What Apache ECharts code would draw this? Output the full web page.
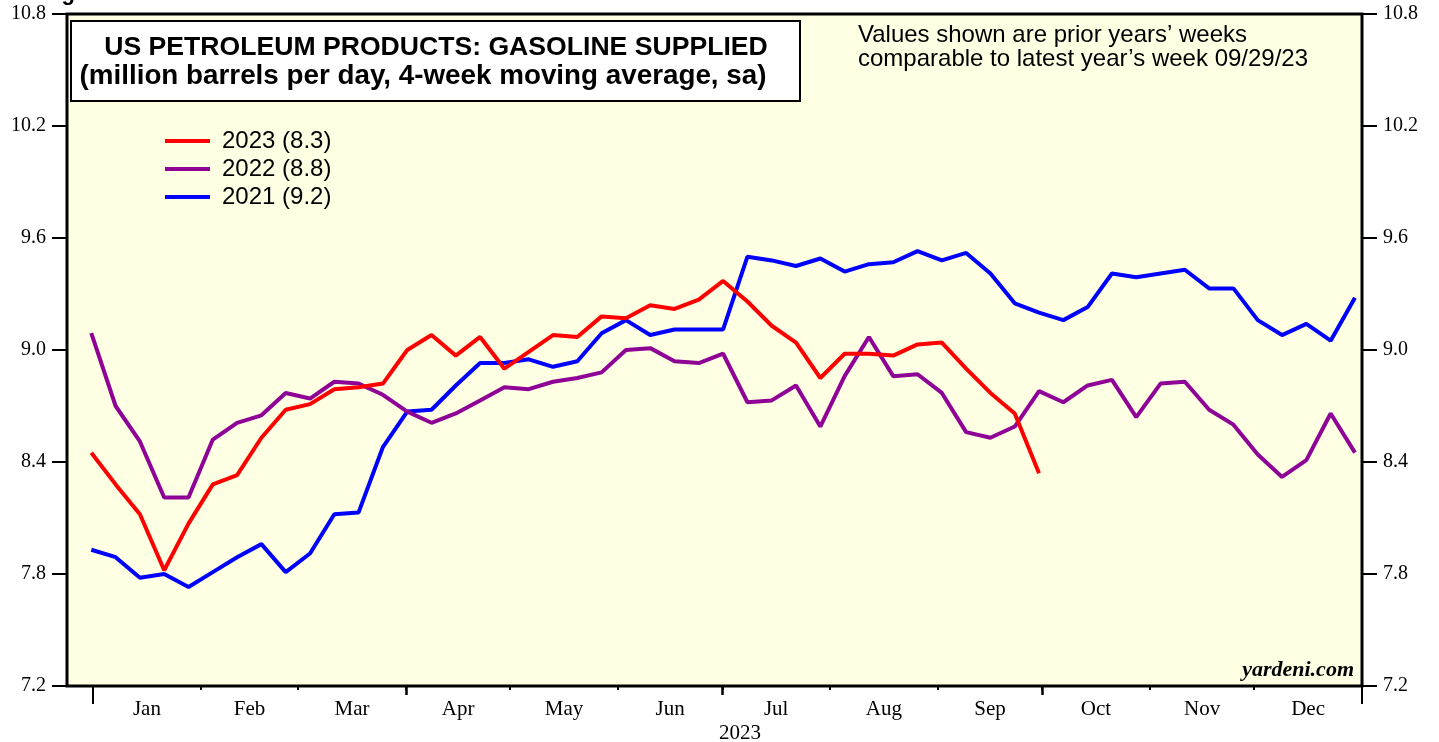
<!DOCTYPE html>
<html>
<head>
<meta charset="utf-8">
<script src="https://cdn.jsdelivr.net/npm/echarts@6/dist/echarts.min.js"></script>
<style>
  html, body { margin: 0; padding: 0; background: #fff; }
  #chart { width: 1439px; height: 742px; }
</style>
</head>
<body>
<div id="chart"></div>
<script>
// weekly values, million barrels per day (4-wk avg, sa)
var y2023 = [8.45, 8.28, 8.12, 7.82, 8.07, 8.28, 8.33, 8.53, 8.68, 8.71,
             8.79, 8.80, 8.82, 9.00, 9.08, 8.97, 9.07, 8.90, 8.99, 9.08,
             9.07, 9.18, 9.17, 9.24, 9.22, 9.27, 9.37, 9.26, 9.13, 9.04,
             8.85, 8.98, 8.98, 8.97, 9.03, 9.04, 8.90, 8.77, 8.66, 8.34];
var y2022 = [9.09, 8.70, 8.51, 8.21, 8.21, 8.52, 8.61, 8.65, 8.77, 8.74,
             8.83, 8.82, 8.76, 8.67, 8.61, 8.66, 8.73, 8.80, 8.79, 8.83,
             8.85, 8.88, 9.00, 9.01, 8.94, 8.93, 8.98, 8.72, 8.73, 8.81,
             8.59, 8.86, 9.07, 8.86, 8.87, 8.77, 8.56, 8.53, 8.59, 8.78,
             8.72, 8.81, 8.84, 8.64, 8.82, 8.83, 8.68, 8.60, 8.44, 8.32,
             8.41, 8.66, 8.45];
var y2021 = [7.93, 7.89, 7.78, 7.80, 7.73, 7.81, 7.89, 7.96, 7.81, 7.91,
             8.12, 8.13, 8.48, 8.67, 8.68, 8.81, 8.93, 8.93, 8.95, 8.91,
             8.94, 9.09, 9.16, 9.08, 9.11, 9.11, 9.11, 9.50, 9.48, 9.45,
             9.49, 9.42, 9.46, 9.47, 9.53, 9.48, 9.52, 9.41, 9.25, 9.20,
             9.16, 9.23, 9.41, 9.39, 9.41, 9.43, 9.33, 9.33, 9.16, 9.08,
             9.14, 9.05, 9.28];
var seriesNames = ['2023 (8.3)', '2022 (8.8)', '2021 (9.2)'];
var seriesColors = ['#ff0000', '#8e0396', '#0000ff'];

// month axis, in day-of-year
var monthNames = ['Jan', 'Feb', 'Mar', 'Apr', 'May', 'Jun', 'Jul', 'Aug', 'Sep', 'Oct', 'Nov', 'Dec'];
var monthStarts = [0, 31, 59, 90, 120, 151, 181, 212, 243, 273, 304, 334, 365];
var quarterStarts = [90, 181, 273];
var yearStarts = [0, 365];

var monthMids = [];
for (var m = 0; m < 12; m++) {
    monthMids.push((monthStarts[m] + monthStarts[m + 1]) / 2);
}

function toPairs(arr) {
    var out = [];
    for (var i = 0; i < arr.length; i++) out.push([i, arr[i]]);
    return out;
}

var serif = 'Liberation Serif';
var sans = 'Liberation Sans';

function tickAxis(values, len, width, withLabels) {
    return {
        type: 'value', position: 'bottom',
        min: -7.48, max: 365,
        axisLine: { show: false, onZero: false },
        splitLine: { show: false },
        axisTick: { show: true, inside: false, length: len, customValues: values,
                    lineStyle: { color: '#000', width: width } },
        axisLabel: withLabels ? {
            show: true, margin: 13, customValues: monthMids,
            color: '#000', fontFamily: serif, fontSize: 21,
            formatter: function (v) {
                var k = monthMids.indexOf(v);
                return k >= 0 ? monthNames[k] : '';
            }
        } : { show: false }
    };
}

function yAxis(pos) {
    return {
        type: 'value', position: pos, min: 7.2, max: 10.8, interval: 0.6,
        axisLine: { show: false, onZero: false },
        splitLine: { show: false },
        axisTick: { show: true, inside: false, length: 15, lineStyle: { color: '#000', width: 2 } },
        axisLabel: { margin: 21, color: '#000', fontFamily: serif, fontSize: 20,
                     formatter: function (v) { return v.toFixed(1); } }
    };
}

var chart = echarts.init(document.getElementById('chart'));
var option = {
    animation: false,
    grid: { left: 67, right: 77, top: 14, bottom: 56, show: true,
            backgroundColor: '#ffffe4', borderColor: '#000', borderWidth: 3 },
    legend: {
        left: 165, top: 129, orient: 'vertical', padding: 0,
        icon: 'rect', itemWidth: 45, itemHeight: 4, itemGap: 4,
        data: seriesNames,
        textStyle: { fontFamily: sans, fontSize: 24, color: '#000', padding: [0, 0, 0, 7] }
    },
    xAxis: [
        { type: 'value', min: -1, max: 52.29, show: false },
        tickAxis(monthStarts, 4, 2, true),
        tickAxis(quarterStarts, 9, 2.5, false),
        tickAxis(yearStarts, 18, 2, false)
    ],
    yAxis: [yAxis('left'), yAxis('right')],
    graphic: [
        { type: 'text', left: 42, top: -17,
          style: { text: 'Figure', font: 'bold 22px "Liberation Sans"', fill: '#000' } },
        { type: 'rect', shape: { x: 71, y: 21, width: 729, height: 80 },
          style: { fill: '#fff', stroke: '#000', lineWidth: 2 }, z: 10 },
        { type: 'text', x: 436, y: 48, z: 11,
          style: { text: 'US PETROLEUM PRODUCTS: GASOLINE SUPPLIED', align: 'center', verticalAlign: 'middle',
                   font: 'bold 26.6px "Liberation Sans"', fill: '#000' } },
        { type: 'text', x: 423, y: 76, z: 11,
          style: { text: '(million barrels per day, 4-week moving average, sa)', align: 'center', verticalAlign: 'middle',
                   font: 'bold 27.8px "Liberation Sans"', fill: '#000' } },
        { type: 'text', x: 858, y: 35, z: 11,
          style: { text: 'Values shown are prior years\u2019 weeks', verticalAlign: 'middle',
                   font: '24px "Liberation Sans"', fill: '#000' } },
        { type: 'text', x: 858, y: 59, z: 11,
          style: { text: 'comparable to latest year\u2019s week 09/29/23', verticalAlign: 'middle',
                   font: '24px "Liberation Sans"', fill: '#000' } },
        { type: 'text', x: 1354, y: 670, z: 11,
          style: { text: 'yardeni.com', align: 'right', verticalAlign: 'middle',
                   font: 'italic bold 22px "Liberation Serif"', fill: '#000' } },
        { type: 'text', x: 740, y: 733, z: 11,
          style: { text: '2023', align: 'center', verticalAlign: 'middle',
                   font: '21px "Liberation Serif"', fill: '#000' } }
    ],
    series: [
        { name: seriesNames[2], type: 'line', data: toPairs(y2021), showSymbol: false, symbol: 'none',
          color: seriesColors[2], lineStyle: { width: 4, color: seriesColors[2] }, z: 3 },
        { name: seriesNames[1], type: 'line', data: toPairs(y2022), showSymbol: false, symbol: 'none',
          color: seriesColors[1], lineStyle: { width: 4, color: seriesColors[1] }, z: 4 },
        { name: seriesNames[0], type: 'line', data: toPairs(y2023), showSymbol: false, symbol: 'none',
          color: seriesColors[0], lineStyle: { width: 4, color: seriesColors[0] }, z: 5 }
    ]
};
chart.setOption(option);
</script>
</body>
</html>
